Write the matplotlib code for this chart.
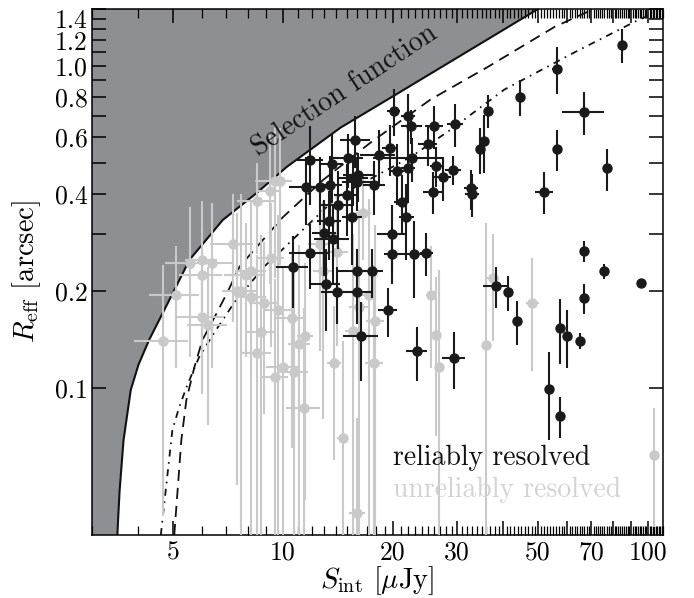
import numpy as np
import matplotlib
matplotlib.use('Agg')
import matplotlib.pyplot as plt
from matplotlib.ticker import FixedLocator, FixedFormatter, NullFormatter, NullLocator

plt.rcParams['font.family'] = 'serif'
plt.rcParams['font.serif'] = ['cmr10']
plt.rcParams['mathtext.fontset'] = 'cm'
plt.rcParams['axes.formatter.use_mathtext'] = True
plt.rcParams['lines.scale_dashes'] = False

# ---------------- data ----------------
XMIN, XMAX = 3.0, 110.0
YMIN, YMAX = 0.035, 1.5

# selection function (solid curve)
S_sel = [3.52, 3.54, 3.57, 3.66, 3.83, 4.02, 4.30, 4.89, 5.55, 6.84, 8.48, 10.26, 14.4, 19.7, 27.1, 37.2, 50.0]
R_sel = [0.035, 0.040, 0.048, 0.069, 0.0986, 0.118, 0.141, 0.188, 0.25, 0.332, 0.403, 0.486, 0.643, 0.795, 0.988, 1.226, 1.5]

# dashed curve
S_dash = [5.04, 5.27, 5.44, 5.72, 6.02, 6.50, 7.06, 7.61, 8.48, 10.0, 12.88, 17.37, 25.4, 36.5, 55.5, 70.1]
R_dash = [0.035, 0.069, 0.0918, 0.116, 0.141, 0.166, 0.199, 0.238, 0.274, 0.339, 0.442, 0.577, 0.786, 0.993, 1.32, 1.49]

# dash-dotted curve
S_dd = [4.63, 4.98, 5.20, 5.47, 5.90, 6.50, 7.38, 8.92, 10.0, 14.09, 22.4, 28.8, 40.4, 62.9, 92.1, 104.5]
R_dd = [0.035, 0.074, 0.0873, 0.102, 0.125, 0.149, 0.185, 0.239, 0.270, 0.392, 0.521, 0.633, 0.843, 1.10, 1.37, 1.46]

# reliably resolved sources
S_rel = [84.8, 56.2, 44.5, 36.5, 67.0, 35.6, 34.7, 56.2, 77.0, 52.0,
         32.8, 33.0, 67.0, 75.6, 95.6, 67.0, 38.4, 41.3, 29.3, 27.4,
         26.3, 25.7, 26.0, 29.6, 24.9, 20.1, 22.0, 22.5, 19.7, 18.3,
         22.6, 20.5, 22.0, 15.8, 15.1, 16.1, 15.6, 16.0, 17.8, 15.0,
         21.2, 21.8, 15.5, 14.2, 19.9, 19.9, 22.9, 24.7, 16.0, 17.5,
         16.0, 19.4, 16.4, 23.3, 29.4, 43.9, 57.3, 60.1, 65.2, 53.6,
         57.3, 11.9, 13.6, 11.6, 12.65, 13.5, 13.4, 13.0, 13.7, 11.9,
         10.65, 13.1, 14.1]
R_rel = [1.16, 0.98, 0.80, 0.725, 0.72, 0.585, 0.55, 0.55, 0.48, 0.407,
         0.416, 0.40, 0.266, 0.23, 0.212, 0.19, 0.207, 0.198, 0.476, 0.45,
         0.49, 0.407, 0.65, 0.66, 0.57, 0.725, 0.70, 0.65, 0.555, 0.53,
         0.516, 0.47, 0.48, 0.59, 0.516, 0.457, 0.447, 0.435, 0.425, 0.396,
         0.378, 0.34, 0.34, 0.37, 0.30, 0.26, 0.26, 0.263, 0.23, 0.23,
         0.198, 0.174, 0.145, 0.13, 0.124, 0.161, 0.154, 0.145, 0.14, 0.099,
         0.082, 0.51, 0.495, 0.42, 0.42, 0.426, 0.33, 0.303, 0.29, 0.263,
         0.237, 0.21, 0.198]
Serr_rel = [1.5, 1.5, 1.0, 1.0, 9.0, 1.0, 1.0, 1.0, 1.5, 3.0,
            1.5, 1.5, 1.0, 1.0, 0.0, 1.0, 3.0, 1.0, 1.5, 1.5,
            1.0, 1.5, 1.5, 1.5, 1.5, 0.8, 1.0, 1.5, 1.0, 2.0,
            5.0, 1.0, 1.0, 1.5, 1.5, 1.5, 1.5, 1.5, 1.2, 1.2,
            1.0, 1.0, 1.0, 1.5, 1.8, 1.0, 2.5, 1.0, 2.0, 1.3,
            1.5, 1.2, 1.8, 1.5, 2.2, 1.0, 1.0, 1.2, 1.0, 1.0,
            1.0, 1.0, 1.0, 1.2, 1.0, 1.0, 1.0, 1.0, 1.5, 1.5,
            1.1, 1.2, 1.4]
Rerr_rel = [0.14, 0.16, 0.10, 0.085, 0.11, 0.12, 0.09, 0.08, 0.07, 0.06,
            0.06, 0.06, 0.02, 0.012, 0.0, 0.02, 0.03, 0.025, 0.05, 0.07,
            0.07, 0.06, 0.10, 0.10, 0.08, 0.12, 0.12, 0.08, 0.10, 0.10,
            0.08, 0.10, 0.10, 0.11, 0.10, 0.08, 0.08, 0.08, 0.08, 0.10,
            0.08, 0.09, 0.10, 0.10, 0.07, 0.05, 0.07, 0.04, 0.04, 0.04,
            0.04, 0.03, 0.04, 0.025, 0.025, 0.025, 0.035, 0.03, 0.008, 0.03,
            0.012, 0.14, 0.12, 0.10, 0.10, 0.10, 0.08, 0.08, 0.08, 0.06,
            0.06, 0.06, 0.04]

# unreliably resolved sources
S_unr = [9.5, 9.8, 9.2, 8.5, 7.3, 9.3, 5.55, 6.0, 6.4, 6.0,
         5.1, 7.9, 8.2, 7.5, 7.7, 8.2, 4.7, 6.0, 6.25, 8.85,
         9.7, 10.6, 8.7, 11.5, 11.1, 8.5, 10.0, 10.7, 9.5, 11.4,
         13.8, 14.6, 12.6, 14.1, 12.9, 16.2, 17.2, 17.9, 15.6, 17.8,
         16.0, 25.4, 26.3, 26.8, 36.0, 48.2, 37.7, 104.0, 16.6]
R_unr = [0.44, 0.44, 0.41, 0.38, 0.28, 0.254, 0.245, 0.25, 0.245, 0.224,
         0.195, 0.225, 0.23, 0.20, 0.20, 0.191, 0.14, 0.166, 0.157, 0.183,
         0.174, 0.165, 0.149, 0.145, 0.137, 0.128, 0.116, 0.112, 0.108, 0.087,
         0.12, 0.07, 0.28, 0.265, 0.23, 0.178, 0.195, 0.161, 0.15, 0.12,
         0.041, 0.195, 0.146, 0.116, 0.136, 0.183, 0.22, 0.062, 0.35]
Serr_unr = [1.1, 0.6, 0.7, 1.0, 1.0, 0.8, 0.8, 0.6, 0.9, 0.8,
            0.8, 1.0, 0.8, 0.7, 0.8, 0.8, 0.8, 0.9, 0.8, 0.8,
            0.9, 1.0, 0.8, 0.6, 0.8, 0.8, 1.0, 1.0, 0.8, 1.2,
            0.6, 0.5, 0.9, 1.0, 0.8, 1.0, 0.8, 1.0, 0.8, 1.0,
            0.8, 0.8, 0.6, 0.6, 1.0, 2.0, 1.5, 0.0, 0.8]
Rerr_unr = [0.22, 0.2, 0.2, 0.12, 0.12, 0.12, 0.12, 0.13, 0.13, 0.09,
            0.08, 0.10, 0.12, 0.15, 0.2, 0.19, 0.10, 0.07, 0.08, 0.10,
            0.17, 0.10, 0.15, 0.10, 0.14, 0.13, 0.12, 0.12, 0.11, 0.09,
            0.06, 0.07, 0.15, 0.13, 0.15, 0.18, 0.19, 0.16, 0.15, 0.12,
            0.04, 0.08, 0.075, 0.116, 0.19, 0.07, 0.08, 0.025, 0.10]

x_major = [5, 10, 20, 30, 40, 50, 60, 70, 80, 90, 100]
x_major_labels = ['5', '10', '20', '30', '', '50', '', '70', '', '', '100']
x_minor = [v for v in range(3, 111) if v not in x_major]
y_ticks = [round(0.1 * k, 1) for k in range(1, 16)]
y_labels_shown = [0.1, 0.2, 0.4, 0.6, 0.8, 1.0, 1.2, 1.4]

# ---------------- plot ----------------
fig = plt.figure(figsize=(6.94, 5.98), dpi=100)
ax = fig.add_axes([0.1326, 0.1054, 0.8228, 0.8796])
ax.set_xscale('log')
ax.set_yscale('log')
ax.set_xlim(XMIN, XMAX)
ax.set_ylim(YMIN, YMAX)

fill_x = [XMIN] + S_sel + [XMIN]
fill_y = [YMIN] + R_sel + [YMAX]
ax.fill(fill_x, fill_y, color='#8e8f92', lw=0, zorder=1)
ax.plot(S_sel, R_sel, color='#111111', lw=1.5, zorder=2, solid_joinstyle='round')
ax.plot(S_dash, R_dash, color='#111111', lw=1.3, ls=(0, (8, 5)), zorder=2)
ax.plot(S_dd, R_dd, color='#111111', lw=1.3, ls=(0, (5, 4, 1.2, 4)), zorder=2)

ax.errorbar(S_unr, R_unr, xerr=Serr_unr, yerr=Rerr_unr, fmt='o', color='#c9c9c9',
            ms=6.5, elinewidth=1.5, capsize=0, zorder=3)
ax.errorbar(S_rel, R_rel, xerr=Serr_rel, yerr=Rerr_rel, fmt='o', color='#1a1a1a',
            ms=6.5, elinewidth=1.5, capsize=0, zorder=4)

ax.xaxis.set_major_locator(FixedLocator(x_major))
ax.xaxis.set_major_formatter(FixedFormatter(x_major_labels))
ax.xaxis.set_minor_locator(FixedLocator(x_minor))
ax.xaxis.set_minor_formatter(NullFormatter())
ax.yaxis.set_major_locator(FixedLocator(y_ticks))
ax.yaxis.set_major_formatter(FixedFormatter(
    ['%.1f' % v if v in y_labels_shown else '' for v in y_ticks]))
ax.yaxis.set_minor_locator(NullLocator())

ax.tick_params(which='both', direction='in', top=True, right=True, labelsize=18.5)
ax.tick_params(axis='x', which='major', length=10, width=1.1, pad=4)
ax.tick_params(axis='x', which='minor', length=6.5, width=0.9)
ax.tick_params(axis='y', which='major', length=10, width=1.1, pad=3)
for sp in ax.spines.values():
    sp.set_linewidth(1.1)

ax.set_xlabel(r'$S_{\rm int}$ [$\mu$Jy]', fontsize=20.5)
ax.set_ylabel(r'$R_{\rm eff}$ [arcsec]', fontsize=20.5)
ax.xaxis.set_label_coords(0.5, -0.056)
ax.yaxis.set_label_coords(-0.085, 0.5)

ax.text(0.443, 0.845, 'Selection function', transform=ax.transAxes, fontsize=20,
        rotation=33.5, ha='center', va='center', rotation_mode='anchor', color='#111111')
ax.text(0.527, 0.146, 'reliably resolved', transform=ax.transAxes, fontsize=20,
        ha='left', va='center', color='#111111')
ax.text(0.527, 0.085, 'unreliably resolved', transform=ax.transAxes, fontsize=20,
        ha='left', va='center', color='#d3d3d3')

fig.savefig('out.png', dpi=100)
